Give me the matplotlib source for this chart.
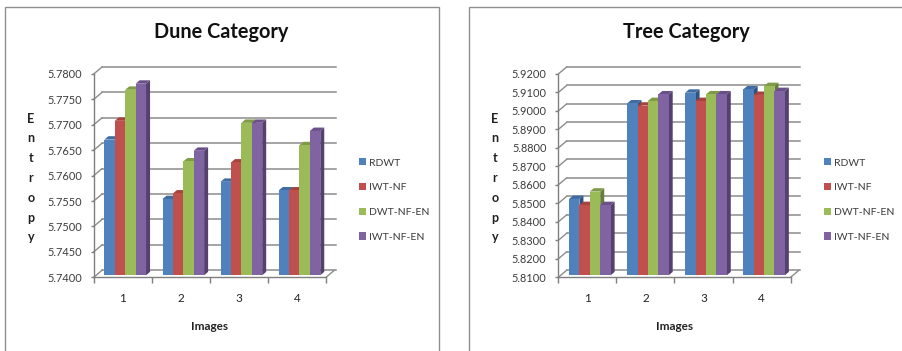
#!/usr/bin/env python3
"""Entropy of the four fusion methods on the Dune and Tree image categories."""
import matplotlib
matplotlib.use("Agg")
import matplotlib.pyplot as plt
from matplotlib.patches import Patch, Polygon, Rectangle
from matplotlib.transforms import ScaledTranslation

plt.rcParams["font.family"] = ["Lato", "DejaVu Sans"]

W, H = 903, 351
images = ["1", "2", "3", "4"]
methods = ["RDWT", "IWT-NF", "DWT-NF-EN", "IWT-NF-EN"]

dune = [
    [5.7667, 5.7550, 5.7584, 5.7567],
    [5.7704, 5.7561, 5.7622, 5.7567],
    [5.7765, 5.7624, 5.7700, 5.7656],
    [5.7777, 5.7645, 5.7700, 5.7684],
]
dune_ticks = [5.74, 5.745, 5.75, 5.755, 5.76, 5.765, 5.77, 5.775, 5.78]

tree = [
    [5.8513, 5.9030, 5.9088, 5.9106],
    [5.8480, 5.9018, 5.9043, 5.9076],
    [5.8553, 5.9043, 5.9079, 5.9124],
    [5.8480, 5.9079, 5.9079, 5.9097],
]
tree_ticks = [5.81, 5.82, 5.83, 5.84, 5.85, 5.86, 5.87, 5.88, 5.89, 5.90, 5.91, 5.92]

front = ["#4f81bd", "#c0504d", "#9bbb59", "#8064a2"]
top = ["#3f6ca3", "#a8423f", "#7f9c45", "#6a5088"]
side = ["#2f5280", "#853432", "#667d39", "#55416f"]
grid_col = "#8c8c8c"
text_col = "#3c3c3c"

fig = plt.figure(figsize=(W / 100, H / 100), dpi=100)


def frame(x0, x1):
    fig.add_artist(Rectangle((x0 / W, -0.02), (x1 - x0) / W, 1.02 - 7 / H,
                             transform=fig.transFigure, fc="white",
                             ec="#8f8f8f", lw=1.0))


def chart(left, values, ticks, title, ylab_x, title_x, legend_x):
    ax = fig.add_axes([left / W, (H - 277.3) / H, 232.3 / W, 203.3 / H], zorder=2)
    ax.patch.set_alpha(0)
    y0, y1 = ticks[0], ticks[-1]
    ax.set_xlim(0, 4)
    ax.set_ylim(y0, y1)

    # pixel sizes converted to data units
    px_x = 4 / 232.3
    px_y = (y1 - y0) / 203.3
    back_x, back_y = 8.3 * px_x, 7.0 * px_y
    end_x = 4 + 9.5 * px_x

    # back wall grid and the diagonals running to it
    for t in ticks:
        ax.plot([back_x, end_x], [t + back_y, t + back_y], color=grid_col,
                lw=1.1, clip_on=False, zorder=1)
        ax.plot([0, back_x], [t, t + back_y], color=grid_col, lw=1.0,
                clip_on=False, zorder=1)
    ax.plot([4, 4 + back_x], [y0, y0 + back_y], color=grid_col, lw=1.0,
            clip_on=False, zorder=1)

    # bars sit a little inside the floor
    lift = ScaledTranslation(0, 2 / 100, fig.dpi_scale_trans)
    bar_tr = ax.transData + lift
    w = 10.4 * px_x
    dx, dy = 4.0 * px_x, 3.4 * px_y
    z = 3
    for i in range(len(images)):
        for j, name in enumerate(methods):
            v = values[j][i]
            x0 = i + 0.5 + 0.043 + (j - 2) * w
            x1 = x0 + w
            ax.add_patch(Polygon([(x1, y0), (x1 + dx, y0 + dy), (x1 + dx, v + dy), (x1, v)],
                                 fc=side[j], ec="none", transform=bar_tr,
                                 clip_on=False, zorder=z))
            ax.add_patch(Polygon([(x0, v), (x0 + dx, v + dy), (x1 + dx, v + dy), (x1, v)],
                                 fc=top[j], ec="none", transform=bar_tr,
                                 clip_on=False, zorder=z))
            ax.bar(x0, v - y0, w, bottom=y0, align="edge", color=front[j],
                   transform=bar_tr, clip_on=False, zorder=z + 0.5)
            z += 1
    ax.set_xlim(0, 4)
    ax.set_ylim(y0, y1)

    for s in ("top", "right"):
        ax.spines[s].set_visible(False)
    for s in ("left", "bottom"):
        ax.spines[s].set_color("#7f7f7f")
        ax.spines[s].set_linewidth(1.0)
        ax.spines[s].set_zorder(2)

    ax.set_yticks(ticks)
    ax.set_yticklabels([f"{t:.4f}" for t in ticks], fontsize=7.9, color=text_col)
    ax.set_xticks(range(5))
    ax.set_xticklabels([])
    ax.set_xticks([k + 0.5 for k in range(4)], labels=images, minor=True,
                  fontsize=8.5, color="#222222")
    ax.tick_params(axis="x", which="major", length=4.5, color="#7f7f7f", width=1)
    ax.tick_params(axis="x", which="minor", length=0, pad=11)
    ax.tick_params(axis="y", length=2.5, color="#7f7f7f", width=1, pad=6)

    fig.text(title_x / W, (H - 32.5) / H, title, fontsize=14.3, fontweight="bold",
             ha="center", va="center", color="#111111", zorder=5)
    fig.text((left + 116) / W, (H - 326) / H, "Images", fontsize=8.5,
             fontweight="bold", ha="center", va="center", color="#222222", zorder=5)
    fig.text(ylab_x / W, (H - 178) / H, "\n".join("Entropy"), fontsize=9,
             fontweight="bold", ha="center", va="center", linespacing=1.78,
             color="#222222", zorder=5)

    handles = [Patch(fc=c, ec="none", label=m) for c, m in zip(front, methods)]
    leg = ax.legend(handles=handles, loc="center left", frameon=False,
                    bbox_to_anchor=(legend_x / W, (H - 200) / H),
                    bbox_transform=fig.transFigure, fontsize=7.5,
                    handlelength=0.67, handleheight=0.67, handletextpad=0.32,
                    labelspacing=1.49, borderpad=0, borderaxespad=0)
    for t in leg.get_texts():
        t.set_color(text_col)
    return ax


frame(5, 439)
frame(469, 930)
chart(93.7, dune, dune_ticks, "Dune Category", 31, 221.5, 359)
chart(558.3, tree, tree_ticks, "Tree Category", 495, 686, 824)

plt.savefig("out.png", dpi=100)
